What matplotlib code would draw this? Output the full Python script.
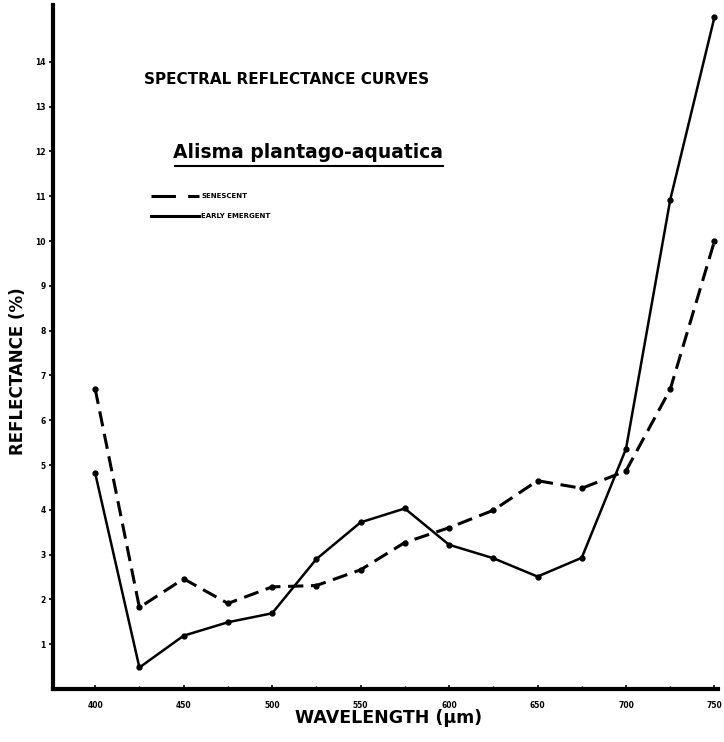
import numpy as np
import matplotlib.pyplot as plt
from matplotlib.lines import Line2D

plt.rcParams['font.family'] = ['DejaVu Sans']

# wavelength sampled every 25
wavelength = [400, 425, 450, 475, 500, 525, 550, 575, 600, 625, 650, 675, 700, 725, 750]
senescent = [6.7, 1.82, 2.46, 1.91, 2.28, 2.31, 2.66, 3.27, 3.6, 3.99, 4.65, 4.48, 4.87, 6.69, 10.0]
early_emergent = [4.82, 0.48, 1.19, 1.49, 1.69, 2.9, 3.72, 4.03, 3.22, 2.92, 2.51, 2.93, 5.36, 10.92, 15.0]

x_ticks = [400, 450, 500, 550, 600, 650, 700, 750]
y_ticks = list(range(1, 15))

W, H = 724, 742
fig = plt.figure(figsize=(W / 100, H / 100), dpi=100)
ax = fig.add_axes([52.7 / W, 1 - 689 / H, (718 - 52.7) / W, (689 - 5) / H])

ax.plot(wavelength, senescent, color='black', lw=2.2, ls=(0, (5, 2.5)),
        marker='o', ms=3.5, label='SENESCENT')
ax.plot(wavelength, early_emergent, color='black', lw=1.8, ls='-',
        marker='o', ms=3.5, label='EARLY EMERGENT')

ax.set_xlim(376, 752)
ax.set_ylim(0, 15.27)

for s in ['top', 'right']:
    ax.spines[s].set_visible(False)
for s in ['left', 'bottom']:
    ax.spines[s].set_linewidth(3)

ax.set_xticks(x_ticks)
ax.set_xticks([425, 475, 525, 575, 625, 675, 725], minor=True)
ax.set_yticks(y_ticks)
ax.tick_params(axis='both', which='major', labelsize=5.5, length=3, width=1.2, pad=2)
ax.tick_params(axis='x', which='major', pad=9, direction='in')
ax.tick_params(axis='x', which='minor', length=2, width=1, direction='in')
for lab in ax.get_xticklabels() + ax.get_yticklabels():
    lab.set_fontweight('bold')

fig.text(389 / W, 1 - 718 / H, 'WAVELENGTH (µm)', ha='center', va='center',
         fontsize=12.5, fontweight='bold')
fig.text(18 / W, 1 - 371 / H, 'REFLECTANCE (%)', ha='center', va='center',
         rotation=90, fontsize=12, fontweight='bold')

fig.text(287 / W, 1 - 80 / H, 'SPECTRAL REFLECTANCE CURVES', ha='center', va='center',
         fontsize=11, fontweight='bold')
fig.text(308 / W, 1 - 153 / H, 'Alisma plantago-aquatica', ha='center', va='center',
         fontsize=13.5, fontweight='bold')
fig.add_artist(Line2D([175 / W, 443 / W], [1 - 166 / H, 1 - 166 / H], color='black', lw=1.5))

# hand-drawn style key
fig.add_artist(Line2D([151 / W, 199 / W], [1 - 195.5 / H, 1 - 195.5 / H], color='black',
                      lw=2.2, ls=(0, (8, 4))))
fig.add_artist(Line2D([151 / W, 199 / W], [1 - 215.5 / H, 1 - 215.5 / H], color='black', lw=2.2))
fig.text(201 / W, 1 - 195.5 / H, 'SENESCENT', ha='left', va='center', fontsize=5, fontweight='bold')
fig.text(201 / W, 1 - 215.5 / H, 'EARLY EMERGENT', ha='left', va='center', fontsize=5, fontweight='bold')

fig.savefig('out.png', dpi=100)
